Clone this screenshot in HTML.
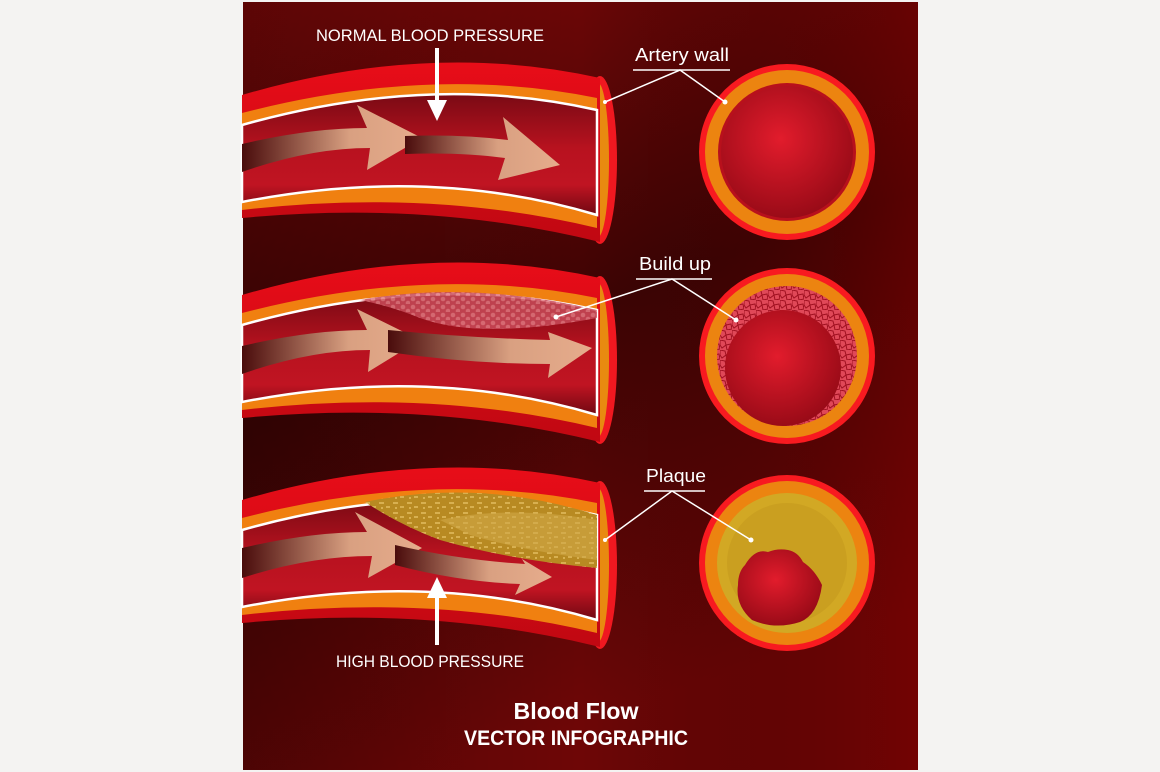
<!DOCTYPE html>
<html><head><meta charset="utf-8"><style>
html,body{margin:0;padding:0;background:#f4f3f2;}
svg{display:block;}
text{font-family:"Liberation Sans",sans-serif;fill:#fff;}
</style></head><body>
<svg width="1160" height="772" viewBox="0 0 1160 772" xmlns="http://www.w3.org/2000/svg">
<defs>
<linearGradient id="bg" x1="0" y1="0" x2="0.3" y2="1">
<stop offset="0" stop-color="#7c0707"/>
<stop offset="0.5" stop-color="#3e0404"/>
<stop offset="1" stop-color="#6e0606"/>
</linearGradient>
<linearGradient id="bgr" x1="0" y1="0" x2="1" y2="0">
<stop offset="0" stop-color="#000" stop-opacity="0.25"/>
<stop offset="0.5" stop-color="#000" stop-opacity="0"/>
<stop offset="1" stop-color="#700" stop-opacity="0.5"/>
</linearGradient>
<linearGradient id="lumen" x1="0" y1="0" x2="0" y2="1">
<stop offset="0" stop-color="#7a0a14"/>
<stop offset="0.45" stop-color="#b8121f"/>
<stop offset="0.75" stop-color="#c01422"/>
<stop offset="1" stop-color="#700812"/>
</linearGradient>
<linearGradient id="outer" x1="0" y1="0" x2="0" y2="1">
<stop offset="0" stop-color="#e80d18"/>
<stop offset="1" stop-color="#c00812"/>
</linearGradient>
<linearGradient id="arr" x1="0" y1="0" x2="1" y2="0">
<stop offset="0" stop-color="#4a0c0c"/>
<stop offset="0.6" stop-color="#d9a081"/>
<stop offset="1" stop-color="#e6ac8c"/>
</linearGradient>
<radialGradient id="cl" cx="0.45" cy="0.4" r="0.7">
<stop offset="0" stop-color="#e21c2c"/>
<stop offset="1" stop-color="#8e0814"/>
</radialGradient>
<pattern id="cells" width="12" height="10" patternUnits="userSpaceOnUse">
<rect width="12" height="10" fill="#e04858"/>
<path d="M0 0 L5 1 L6 5 L2 8 L0 5 Z M6 5 L11 4 L12 9 L7 10 Z" fill="none" stroke="#a01020" stroke-width="1"/>
</pattern>
<pattern id="cells2" width="10" height="8" patternUnits="userSpaceOnUse">
<rect width="10" height="8" fill="#c84a58"/>
<circle cx="3" cy="3" r="2.3" fill="#e07880"/><circle cx="8" cy="7" r="2.3" fill="#e07880"/>
</pattern>
<pattern id="gold" width="14" height="10" patternUnits="userSpaceOnUse">
<rect width="14" height="10" fill="#b88a22"/>
<path d="M1 2 h5 v2 h-5z M8 6 h4 v2 h-4z M3 7 h2 v2 h-2z" fill="#d8b050"/>
</pattern>
<g id="tube">
<ellipse cx="600" cy="160" rx="17" ry="84" fill="#f01820"/>
<ellipse cx="598" cy="160" rx="11" ry="77" fill="#e88a10"/>
<path d="M242,95 Q430,40 600,78 L600,242 Q430,200 242,218 Z" fill="url(#outer)"/>
<path d="M242,113 Q430,64 597,98 L597,228 Q430,188 242,210 Z" fill="#f08010"/>
<path d="M242,125 Q430,72 597,110 L597,215 Q430,165 242,202 Z" fill="url(#lumen)" stroke="#fff" stroke-width="2.5"/>
</g>
</defs>
<rect x="243" y="2" width="675" height="768" fill="url(#bg)"/>
<rect x="243" y="2" width="675" height="768" fill="url(#bgr)"/>

<use href="#tube"/>
<path d="M242,144 Q310,128 367,128 L357,105 L422,138 L367,170 L370,148 Q310,148 242,172 Z" fill="url(#arr)"/>
<path d="M405,136 Q460,134 508,140 L503,117 L560,165 L498,180 L505,158 Q460,152 405,154 Z" fill="url(#arr)"/>

<use href="#tube" y="200"/>
<path d="M360,300 Q470,280 597,310 L597,318 Q480,340 420,318 Q390,306 360,300 Z" fill="url(#cells2)" opacity="0.85"/>
<path d="M242,346 Q310,330 367,330 L357,309 L420,340 L368,372 L370,350 Q310,350 242,374 Z" fill="url(#arr)"/>
<path d="M388,330 Q470,338 550,340 L548,332 L592,348 L548,378 L550,364 Q470,364 388,352 Z" fill="url(#arr)"/>

<use href="#tube" y="405"/>
<path d="M365,502 Q480,478 597,515 L597,568 Q510,560 440,540 Q400,525 365,502 Z" fill="url(#gold)"/>
<path d="M440,520 Q510,505 597,520 L597,560 Q520,550 470,535 Z" fill="#d0a848" opacity="0.6"/>
<path d="M242,548 Q310,532 367,532 L355,512 L422,548 L368,578 L372,556 Q310,556 242,578 Z" fill="url(#arr)"/>
<path d="M395,545 Q460,560 525,564 L522,559 L552,577 L515,595 L520,584 Q460,582 395,565 Z" fill="url(#arr)"/>

<circle cx="787" cy="152" r="88" fill="#f81a20"/>
<circle cx="787" cy="152" r="82" fill="#ec8410"/>
<circle cx="787" cy="152" r="69" fill="#b8101c"/>
<circle cx="787" cy="152" r="66" fill="url(#cl)"/>

<circle cx="787" cy="356" r="88" fill="#f81a20"/>
<circle cx="787" cy="356" r="82" fill="#ec8410"/>
<circle cx="787" cy="356" r="70" fill="url(#cells)"/>
<circle cx="783" cy="368" r="58" fill="url(#cl)"/>

<circle cx="787" cy="563" r="88" fill="#f81a20"/>
<circle cx="787" cy="563" r="82" fill="#ec8410"/>
<circle cx="787" cy="563" r="70" fill="#d2a824"/>
<circle cx="787" cy="563" r="60" fill="#c49a1e" opacity="0.6"/>
<path d="M745,565 Q755,548 768,552 Q778,548 788,550 Q798,552 803,562 Q815,570 822,585 Q818,615 800,622 Q775,630 752,620 Q735,605 738,585 Q738,572 745,565 Z" fill="url(#cl)"/>

<text x="430" y="41" font-size="17" text-anchor="middle" textLength="228" lengthAdjust="spacingAndGlyphs">NORMAL BLOOD PRESSURE</text>
<rect x="435" y="48" width="4" height="55" fill="#fff"/>
<path d="M427,100 L447,100 L437,121 Z" fill="#fff"/>

<text x="682" y="61" font-size="18" text-anchor="middle" textLength="94" lengthAdjust="spacingAndGlyphs">Artery wall</text>
<line x1="633" y1="70" x2="730" y2="70" stroke="#fff" stroke-width="1.5"/>
<polyline points="605,102 680,70 725,102" fill="none" stroke="#fff" stroke-width="1.5"/>
<circle cx="725" cy="102" r="2.5" fill="#fff"/><circle cx="605" cy="102" r="2" fill="#fff"/>

<text x="675" y="270" font-size="18" text-anchor="middle" textLength="72" lengthAdjust="spacingAndGlyphs">Build up</text>
<line x1="636" y1="279" x2="712" y2="279" stroke="#fff" stroke-width="1.5"/>
<polyline points="556,317 672,279 736,320" fill="none" stroke="#fff" stroke-width="1.5"/>
<circle cx="736" cy="320" r="2.5" fill="#fff"/><circle cx="556" cy="317" r="2.5" fill="#fff"/>

<text x="676" y="482" font-size="18" text-anchor="middle" textLength="60" lengthAdjust="spacingAndGlyphs">Plaque</text>
<line x1="644" y1="491" x2="705" y2="491" stroke="#fff" stroke-width="1.5"/>
<polyline points="605,540 672,491 751,540" fill="none" stroke="#fff" stroke-width="1.5"/>
<circle cx="751" cy="540" r="2.5" fill="#fff"/><circle cx="605" cy="540" r="2" fill="#fff"/>

<path d="M427,598 L447,598 L437,577 Z" fill="#fff"/>
<rect x="435" y="595" width="4" height="50" fill="#fff"/>
<text x="430" y="667" font-size="17" text-anchor="middle" textLength="188" lengthAdjust="spacingAndGlyphs">HIGH BLOOD PRESSURE</text>

<text x="576" y="719" font-size="23" font-weight="bold" text-anchor="middle" textLength="125" lengthAdjust="spacingAndGlyphs">Blood Flow</text>
<text x="576" y="745" font-size="21" text-anchor="middle" textLength="224" lengthAdjust="spacingAndGlyphs" style="font-weight:600">VECTOR INFOGRAPHIC</text>
</svg>
</body></html>
